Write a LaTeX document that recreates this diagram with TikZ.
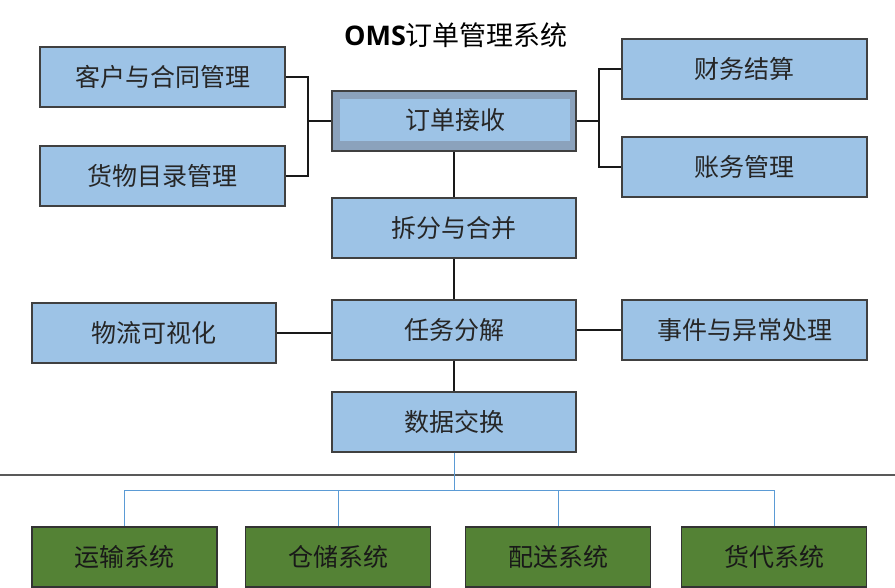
\documentclass[tikz,border=0pt]{standalone}
\usepackage{fontspec}
\newfontfamily\cjk{Noto Sans CJK SC}
\newfontfamily\latinsans{Open Sans}
\definecolor{boxblue}{HTML}{9DC3E6}
\definecolor{boxgrey}{HTML}{8BA2BC}
\definecolor{boxgreen}{HTML}{548235}
\definecolor{linkblue}{HTML}{5B9BD5}
\begin{document}
\begin{tikzpicture}[x=1pt,y=-1pt,
  box/.style={draw=black!75, line width=1.1pt, fill=boxblue, minimum width=245pt, minimum height=60pt, inner sep=0pt, font=\cjk\fontsize{25}{25}\selectfont, text=black!85},
  gbox/.style={draw=black!80, line width=1.1pt, fill=boxgreen, minimum width=185pt, minimum height=60pt, inner sep=0pt, font=\cjk\fontsize{25}{25}\selectfont, text=black!90},
  conn/.style={draw=black!90, line width=1.3pt},
  bconn/.style={draw=linkblue, line width=1pt}]
\useasboundingbox (0,0) rectangle (895,587);
\fill[white] (0,0) rectangle (895,587);
\node[font=\fontsize{27}{27}\selectfont] (title) at (456,35) {{\latinsans\bfseries OMS}{\cjk 订单管理系统}};
% left column
\node[box] (cust) at (162.5,77) {客户与合同管理};
\node[box] (goods) at (162.5,176) {货物目录管理};
\node[box, minimum width=244pt] (vis) at (154,333) {物流可视化};
% center column
\node[box, fill=boxgrey, minimum width=244pt] (recv) at (454,121) {};
\node[box, draw=none, minimum width=230pt, minimum height=42pt] (recvin) at (455,120) {订单接收};
\node[box, minimum width=244pt] (split) at (454,228) {拆分与合并};
\node[box, minimum width=244pt] (task) at (454,330) {任务分解};
\node[box, minimum width=244pt] (dx) at (454,422) {数据交换};
% right column
\node[box] (fin) at (744.5,69) {财务结算};
\node[box] (acct) at (744.5,167) {账务管理};
\node[box] (evt) at (744.5,330) {事件与异常处理};
% separator
\draw[draw=black!65, line width=1.4pt] (0,475) -- (895,475);
% external systems
\node[gbox] (g1) at (124.5,557) {运输系统};
\node[gbox] (g2) at (338,557) {仓储系统};
\node[gbox] (g3) at (558,557) {配送系统};
\node[gbox] (g4) at (774,557) {货代系统};
% connectors
\coordinate (lb) at (308,121);
\coordinate (rb) at (599,121);
\coordinate (hub) at (454,490);
\draw[conn] (cust.east) -| (lb) |- (goods.east);
\draw[conn] (lb) -- (recv.west);
\draw[conn] (fin.west) -| (rb) |- (acct.west);
\draw[conn] (rb) -- (recv.east);
\draw[conn] (recv.south) -- (split.north);
\draw[conn] (split.south) -- (task.north);
\draw[conn] (task.south) -- (dx.north);
\draw[conn] (vis.east) -- (vis.east -| task.west);
\draw[conn] (task.east) -- (evt.west);
\draw[bconn] (dx.south) -- (hub);
\draw[bconn] (hub) -| (g1.north);
\draw[bconn] (hub) -| (g2.north);
\draw[bconn] (hub) -| (g3.north);
\draw[bconn] (hub) -| (g4.north);
\end{tikzpicture}
\end{document}
